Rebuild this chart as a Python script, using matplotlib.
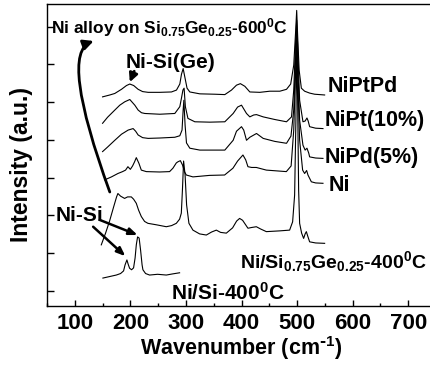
import matplotlib
matplotlib.use('Agg')
import matplotlib.pyplot as plt
from matplotlib.ticker import MultipleLocator

plt.rcParams['font.family'] = ['Liberation Sans', 'DejaVu Sans']
plt.rcParams['font.weight'] = 'bold'
plt.rcParams['mathtext.default'] = 'regular'

# curves (wavenumber, intensity in tick units)
niptpd_x = [150, 163, 172, 184, 193, 199, 206, 214, 222, 232, 253, 274, 283, 289, 292, 295, 298.5, 302, 307,
            325, 352, 370, 382, 391, 398, 406, 415, 433, 451, 469, 481, 488.5, 494, 497.5, 499.3, 501, 503.7,
            507.7, 513.6, 522.6, 531.6, 549.6]
niptpd_y = [5.14, 5.19, 5.23, 5.34, 5.44, 5.48, 5.44, 5.34, 5.28, 5.26, 5.26, 5.27, 5.32, 5.48, 5.74, 5.89, 5.63,
            5.37, 5.27, 5.22, 5.21, 5.20, 5.32, 5.45, 5.49, 5.42, 5.27, 5.26, 5.29, 5.29, 5.34, 5.48, 5.98, 6.9,
            7.43, 6.77, 5.85, 5.37, 5.29, 5.24, 5.21, 5.19]

nipt_x = [150, 159, 172, 181, 190, 199, 208, 214, 220, 226, 253, 280, 289, 292, 294.6, 296.7, 299, 303.6, 316,
          343, 370, 385, 393, 400, 409, 415, 422, 427, 439, 460, 481, 490, 494, 497.5, 499.3, 501, 504.6,
          510.6, 514.5, 517.8, 520, 522.6, 533.4, 546.6]
nipt_y = [4.44, 4.60, 4.79, 4.92, 5.01, 5.07, 4.92, 4.79, 4.72, 4.70, 4.68, 4.70, 4.88, 5.11, 5.32, 5.37, 4.88,
          4.57, 4.48, 4.47, 4.48, 4.70, 4.87, 4.92, 4.70, 4.61, 4.66, 4.67, 4.61, 4.54, 4.48, 4.61, 5.32, 6.64,
          7.17, 6.51, 5.05, 4.48, 4.50, 4.58, 4.50, 4.35, 4.31, 4.30]

nipd_x = [150, 159, 172, 184, 196, 205, 209.5, 214, 222, 232, 253, 280, 289, 293, 295, 296.3, 298.5, 301, 307,
          325, 370, 385, 391, 400, 404, 409, 415, 427, 439, 460, 481, 489, 494, 497.5, 499.3, 501, 504.6,
          510.6, 514.5, 517.8, 521, 522.6, 533.4, 546.6]
nipd_y = [3.69, 3.81, 3.99, 4.15, 4.26, 4.30, 4.23, 4.13, 4.06, 4.04, 4.05, 4.07, 4.11, 4.26, 4.79, 5.05, 4.39,
          3.92, 3.78, 3.73, 3.73, 3.99, 4.23, 4.35, 4.26, 3.99, 4.07, 4.17, 4.04, 3.96, 3.91, 4.10, 4.79, 6.24,
          6.90, 6.11, 4.52, 3.86, 3.73, 3.78, 3.65, 3.55, 3.52, 3.51]

ni_x = [153.6, 166, 177.6, 186, 191.4, 195.6, 200, 204, 207.6, 210.7, 215.4, 219.7, 228.7, 252.6, 270.6, 276.6,
        282.7, 285.6, 290, 294, 297.6, 300.7, 312.6, 342.6, 369.6, 384.6, 393, 402.6, 407.6, 411.6, 418.3,
        426.7, 444.7, 480.7, 489.3, 494, 497.5, 499.3, 501, 504.6, 510, 513.6, 517.2, 519.6, 525.7, 533.4, 546.6]
ni_y = [2.94, 3.02, 3.11, 3.16, 3.20, 3.29, 3.22, 3.31, 3.42, 3.53, 3.38, 3.20, 3.16, 3.15, 3.16, 3.25,
        3.39, 3.42, 3.45, 3.33, 3.15, 3.07, 3.02, 3.06, 3.07, 3.25, 3.44, 3.60, 3.47, 3.29, 3.27,
        3.27, 3.20, 3.16, 3.31, 4.26, 5.85, 6.64, 5.71, 3.99, 3.20, 3.11, 3.19, 3.07, 2.89, 2.86, 2.85]

sige_x = [147.7, 155.4, 162.6, 169.8, 175.2, 177.6, 182.4, 189.6, 195, 201.7, 205.8, 210.7, 214.8, 219.7, 225.6,
          231.6, 247.2, 264.7, 274.2, 282.7, 288.6, 291.7, 293.7, 295.8, 298.5, 301.2, 305.4, 312.6, 324.6,
          336.7, 346.2, 354.7, 362.4, 372.7, 384, 391.2, 396.6, 402, 411.6, 418.3, 426.7, 434.4, 444.7, 468.6,
          486.6, 492, 495.6, 497.9, 499.3, 501, 502.8, 504.6, 508.2, 511.8, 514.5, 516.7, 519, 522.6, 533.4, 549.6]
sige_y = [1.22, 1.53, 1.85, 2.22, 2.49, 2.58, 2.51, 2.45, 2.49, 2.49, 2.43, 2.32, 2.14, 1.97, 1.84,
          1.79, 1.75, 1.70, 1.73, 1.79, 1.90, 2.06, 2.67, 3.44, 3.07, 2.28, 1.79, 1.61, 1.51,
          1.48, 1.56, 1.61, 1.55, 1.53, 1.67, 1.85, 1.92, 1.87, 1.66, 1.68, 1.70, 1.64, 1.57, 1.59,
          1.61, 1.83, 2.54, 4.52, 6.40, 5.05, 2.67, 1.79, 1.53, 1.39, 1.51, 1.57, 1.46, 1.30, 1.27, 1.26]

nisi_x = [150.6, 162.6, 174.7, 182.4, 187.8, 190.5, 193.8, 196, 198.6, 202.2, 205.8, 208.5, 210.7, 213, 215.8,
          218.4, 221.1, 222.6, 227.4, 234.6, 249, 264.7, 276, 288.6]
nisi_y = [0.34, 0.38, 0.42, 0.46, 0.53, 0.69, 0.82, 0.71, 0.60, 0.56, 0.61, 0.87, 1.22, 1.43, 1.40,
          1.08, 0.69, 0.56, 0.46, 0.42, 0.44, 0.42, 0.45, 0.48]

fig = plt.figure(figsize=(4.3, 3.67), dpi=100)
ax = fig.add_axes([47/430, 61/367, 389/430, 302/367])

for xs, ys in [(niptpd_x, niptpd_y), (nipt_x, nipt_y), (nipd_x, nipd_y), (ni_x, ni_y),
               (sige_x, sige_y), (nisi_x, nisi_y)]:
    ax.plot(xs, ys, color='black', lw=0.8)

ax.set_xlim(50, 750)
ax.set_ylim(-0.4, 7.6)
ax.xaxis.set_major_locator(MultipleLocator(100))
ax.xaxis.set_minor_locator(MultipleLocator(50))
ax.yaxis.set_major_locator(MultipleLocator(1))
ax.set_yticklabels([])
ax.tick_params(direction='in', which='major', length=4, width=1, labelsize=16, pad=5)
ax.tick_params(direction='in', which='minor', length=2.5, width=1)
ax.tick_params(axis='y', which='both', length=5)
for s in ax.spines.values():
    s.set_linewidth(1)

ax.set_xlabel(r'Wavenumber (cm$^{\text{-}1}$)', fontsize=15.5, fontweight='bold', labelpad=0)
ax.set_ylabel('Intensity (a.u.)', fontsize=16.5, fontweight='bold')
ax.yaxis.set_label_coords(-0.036, 0.47)

# labels
ax.text(58, 6.83, 'Ni alloy on Si$_{0.75}$Ge$_{0.25}$-600$^0$C', fontsize=12.5, fontweight='bold', va='baseline')
ax.text(272, 6.06, 'Ni-Si(Ge)', fontsize=15, fontweight='bold', ha='center', va='center')
ax.text(555, 5.42, 'NiPtPd', fontsize=15.5, fontweight='bold', va='center')
ax.text(549, 4.52, 'NiPt(10%)', fontsize=15.5, fontweight='bold', va='center')
ax.text(549, 3.54, 'NiPd(5%)', fontsize=15.5, fontweight='bold', va='center')
ax.text(556, 2.78, 'Ni', fontsize=15.5, fontweight='bold', va='center')
ax.text(398, 0.61, 'Ni/Si$_{0.75}$Ge$_{0.25}$-400$^0$C', fontsize=14, fontweight='bold', va='baseline')
ax.text(274, -0.24, 'Ni/Si-400$^0$C', fontsize=15, fontweight='bold', va='baseline')
ax.text(108, 2.01, 'Ni-Si', fontsize=15, fontweight='bold', ha='center', va='center')

# arrows
ax.annotate('', xy=(134, 6.62), xytext=(163, 2.62),
            arrowprops=dict(arrowstyle='-|>,head_length=0.6,head_width=0.3', color='black', lw=2,
                            connectionstyle='angle3,angleA=110,angleB=20', shrinkA=0, shrinkB=0))
ax.annotate('', xy=(199, 5.53), xytext=(207, 5.82),
            arrowprops=dict(arrowstyle='-|>,head_length=0.5,head_width=0.25', color='black', lw=2,
                            shrinkA=0, shrinkB=0))
ax.annotate('', xy=(213, 1.48), xytext=(145, 1.88),
            arrowprops=dict(arrowstyle='-|>,head_length=0.5,head_width=0.2', color='black', lw=1.8,
                            shrinkA=0, shrinkB=0))
ax.annotate('', xy=(191, 0.92), xytext=(133, 1.70),
            arrowprops=dict(arrowstyle='-|>,head_length=0.5,head_width=0.2', color='black', lw=1.8,
                            shrinkA=0, shrinkB=0))

fig.savefig('out.png', dpi=100)
